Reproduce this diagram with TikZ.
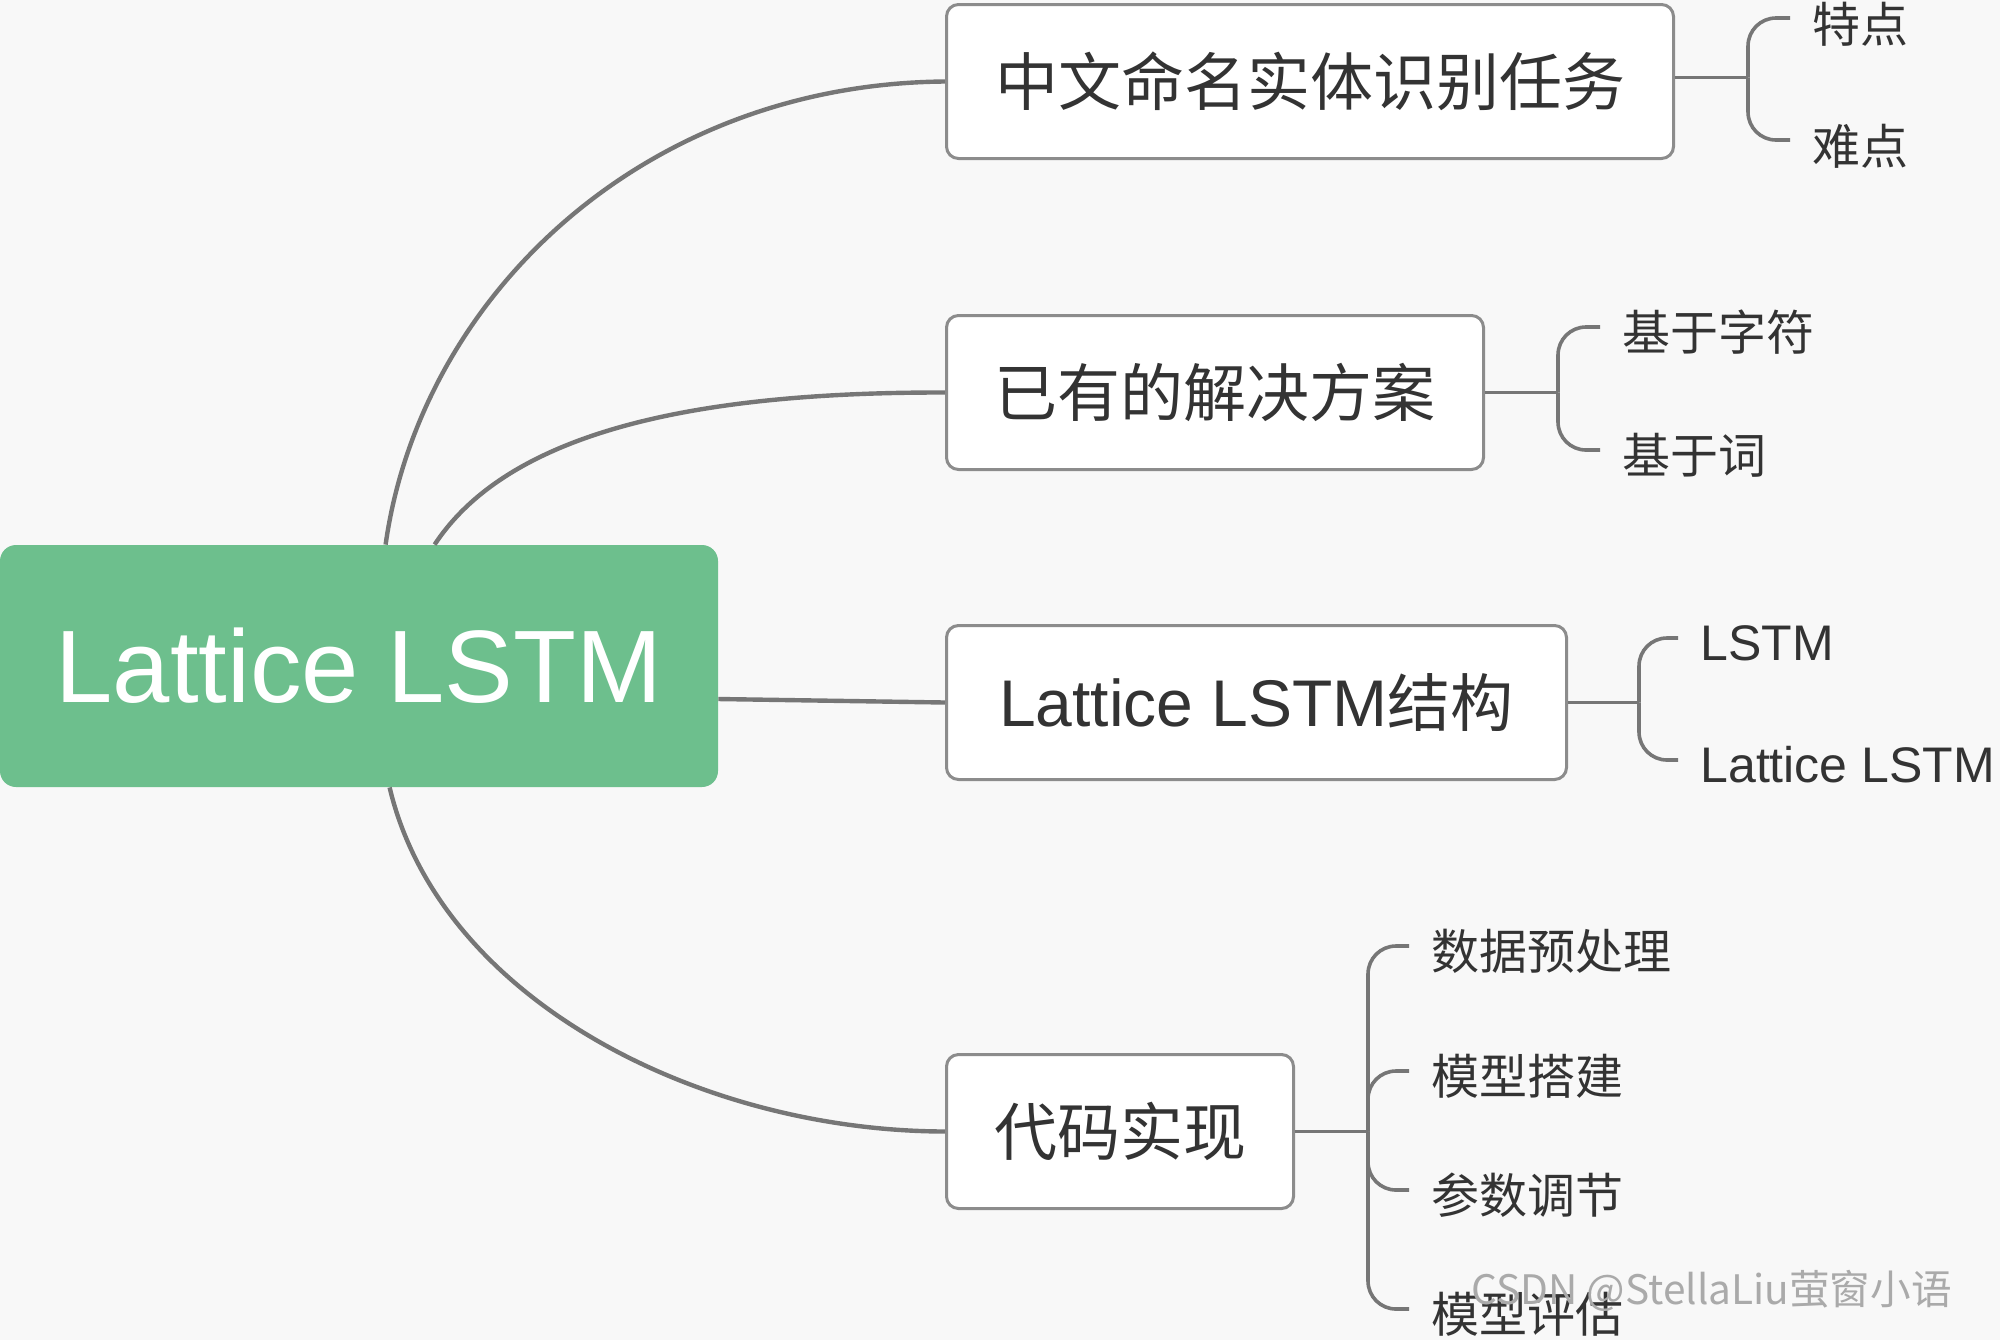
\documentclass[tikz,border=0pt]{standalone}
\usepackage{fontspec}
\setmainfont{Noto Sans CJK SC}
\newfontfamily\lat{Liberation Sans}
\usetikzlibrary{calc}
\definecolor{bg}{RGB}{248,248,248}
\definecolor{rootg}{RGB}{109,191,141}
\definecolor{linec}{RGB}{118,118,118}
\definecolor{boxc}{RGB}{140,140,140}
\definecolor{txt}{RGB}{51,51,51}
\definecolor{wm}{RGB}{170,170,170}
\tikzset{
 rootbox/.style={fill=rootg, rounded corners=8pt, minimum width=359pt, minimum height=121pt, text=white, font=\lat\fontsize{51.5}{52}\selectfont, inner sep=0pt},
 topicbox/.style={draw=boxc, line width=1.5pt, fill=white, rounded corners=6pt, minimum height=77pt, anchor=west, text=txt, font=\fontsize{31.5}{32}\selectfont, inner sep=0pt},
 leaf/.style={anchor=west, inner sep=0pt, text=txt, font=\fontsize{24}{24}\selectfont},
 latleaf/.style={leaf, font=\lat\fontsize{25}{25}\selectfont},
 trunk/.style={draw=linec, line width=2.2pt},
 stem/.style={draw=linec, line width=1.8pt},
 brace/.style={draw=linec, line width=1.8pt, rounded corners=14pt},
 wmark/.style={anchor=west, inner sep=0pt, text=wm, font=\fontsize{20.3}{21}\selectfont},
}
\begin{document}
\begin{tikzpicture}[x=0.5pt,y=-0.5pt]
\useasboundingbox[fill=bg] (0,0) rectangle (2000,1340);
\node[rootbox] (root) at (359,666) {Lattice LSTM};
\node[topicbox, minimum width=363.5pt] (b1) at (945,81.5) {中文命名实体识别任务};
\node[topicbox, minimum width=268.5pt] (b2) at (945,392.5) {已有的解决方案};
\node[topicbox, minimum width=310pt] (b3) at (945,702.5) {{\lat\fontsize{33}{33}\selectfont Lattice LSTM}结构};
\node[topicbox, minimum width=173.5pt] (b4) at (945,1131.5) {代码实现};
% leaves
\node[leaf] (l11) at (1812,24) {特点};
\node[leaf] (l12) at (1812,146) {难点};
\node[leaf] (l21) at (1622,332) {基于字符};
\node[leaf] (l22) at (1622,455) {基于词};
\node[latleaf] (l31) at (1700,643) {LSTM};
\node[latleaf] (l32) at (1700,765) {Lattice LSTM};
\node[leaf] (l41) at (1431,951) {数据预处理};
\node[leaf] (l42) at (1431,1076) {模型搭建};
\node[leaf] (l43) at (1431,1195) {参数调节};
\node[leaf] (l44) at (1431,1314) {模型评估};
% trunks
\draw[trunk] ($(root.north west)+(386,0)$) .. controls (420,300) and (640,84) .. (b1.west);
\draw[trunk] ($(root.north west)+(435,0)$) .. controls (510,430) and (700,392) .. (b2.west);
\draw[trunk] ($(root.east)+(0,33)$) -- (b3.west);
\draw[trunk] ($(root.south west)+(390,0)$) .. controls (440,1000) and (700,1131) .. (b4.west);
% braces
\draw[stem] ($(b1.east)+(0,-4)$) -- ++(73,0) coordinate (j1);
\draw[brace] (j1) |- ($(l11.west)+(-22,-6)$);
\draw[brace] (j1) |- ($(l12.west)+(-22,-6)$);
\draw[stem] (b2.east) -- ++(73,0) coordinate (j2);
\draw[brace] (j2) |- ($(l21.west)+(-22,-5)$);
\draw[brace] (j2) |- ($(l22.west)+(-22,-5)$);
\draw[stem] (b3.east) -- ++(71,0) coordinate (j3);
\draw[brace] (j3) |- ($(l31.west)+(-22,-5)$);
\draw[brace] (j3) |- ($(l32.west)+(-22,-5)$);
\draw[stem] (b4.east) -- ++(73,0) coordinate (j4);
\draw[brace] (j4) |- ($(l41.west)+(-22,-5)$);
\draw[brace] (j4) |- ($(l42.west)+(-22,-5)$);
\draw[brace] (j4) |- ($(l43.west)+(-22,-5)$);
\draw[brace] (j4) |- ($(l44.west)+(-22,-5)$);
% watermark
\node[wmark] (wm) at (1471,1291) {CSDN @StellaLiu萤窗小语};
\end{tikzpicture}
\end{document}
